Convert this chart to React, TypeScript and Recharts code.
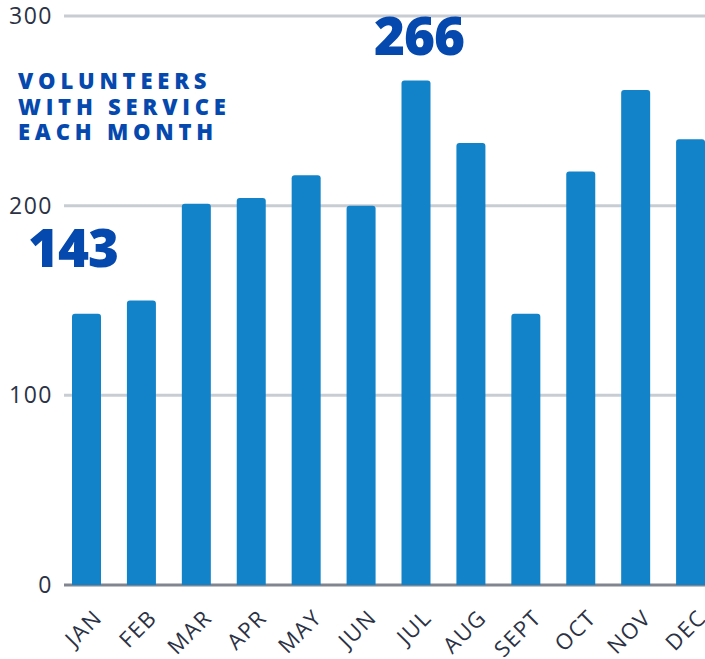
import React from 'react';
import { BarChart, Bar, XAxis, YAxis, CartesianGrid } from 'recharts';

const months = ['JAN', 'FEB', 'MAR', 'APR', 'MAY', 'JUN', 'JUL', 'AUG', 'SEPT', 'OCT', 'NOV', 'DEC'];
const volunteers = [143, 150, 201, 204, 216, 200, 266, 233, 143, 218, 261, 235];
const yTicks = [0, 100, 200, 300];
const titleLines = ['VOLUNTEERS', 'WITH SERVICE', 'EACH MONTH'];
const callouts = [
  { text: '143', x: 28, y: 267 },
  { text: '266', x: 374, y: 55 },
];

const data = months.map((m, i) => ({ month: m, value: volunteers[i] }));

const FONT = '"Open Sans", sans-serif';
const BAR = '#1283c9';
const TITLE = '#0548ae';
const TICK = '#2b3245';

export default function App() {
  return (
    <div style={{ position: 'absolute', left: 0, top: 0, width: 705, height: 659, overflow: 'hidden', background: '#fff' }}>
      <BarChart width={730} height={659} data={data} margin={{ top: 16, right: 12, bottom: 0, left: 0 }}>
        <CartesianGrid x={64} width={700} vertical={false} horizontalValues={[100, 200, 300]} stroke="#c8ccd3" strokeWidth={3} />
        <CartesianGrid x={64} width={700} vertical={false} horizontalValues={[0]} stroke="#80858f" strokeWidth={3} />
        <XAxis
          dataKey="month"
          interval={0}
          height={74}
          axisLine={false}
          tickLine={false}
          angle={-45}
          textAnchor="end"
          tickMargin={17}
          tick={{ fill: TICK, fontSize: 22, fontFamily: FONT, fontWeight: 500, letterSpacing: 1.5, dx: 6 }}
        />
        <YAxis
          domain={[0, 300]}
          ticks={yTicks}
          width={59}
          axisLine={false}
          tickLine={false}
          tickMargin={0}
          tick={{ fill: TICK, fontSize: 23, fontFamily: FONT, fontWeight: 500, letterSpacing: 1.5 }}
        />
        <Bar dataKey="value" fill={BAR} barSize={29} radius={[3, 3, 0, 0]} isAnimationActive={false} />
      </BarChart>
      <svg width={705} height={659} style={{ position: 'absolute', left: 0, top: 0, pointerEvents: 'none' }}>
        {titleLines.map((t, i) => (
          <text key={t} x={18} y={89 + i * 25.7} fill={TITLE} fontFamily={FONT} fontWeight={800} fontSize={22} letterSpacing={4.8}>
            {t}
          </text>
        ))}
        {callouts.map((c) => (
          <text key={c.text} x={c.x} y={c.y} fill={TITLE} fontFamily={FONT} fontWeight={800} fontSize={53} letterSpacing={-1}>
            {c.text}
          </text>
        ))}
      </svg>
    </div>
  );
}
